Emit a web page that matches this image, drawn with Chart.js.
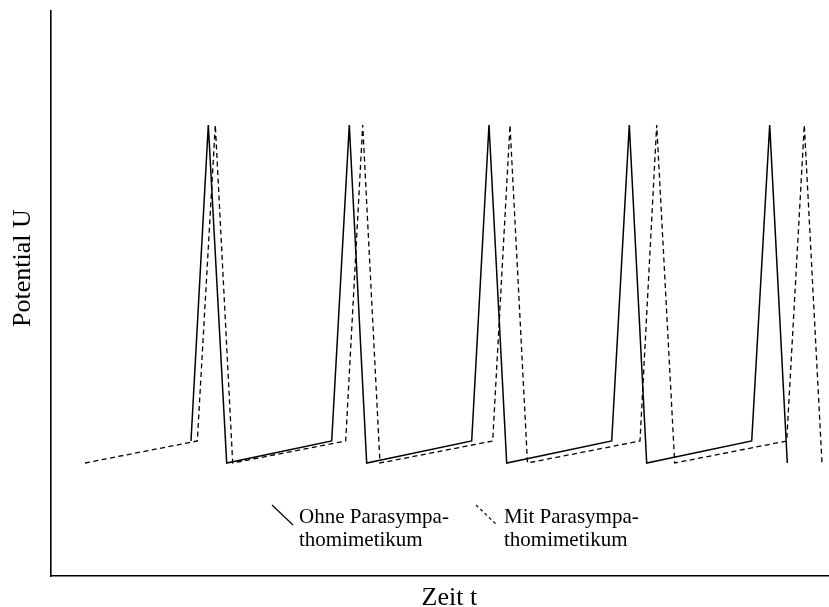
<!DOCTYPE html>
<html>
<head>
<meta charset="utf-8">
<script src="https://cdn.jsdelivr.net/npm/chart.js@4/dist/chart.umd.min.js"></script>
<style>
  html, body { margin: 0; padding: 0; background: #ffffff; }
  #wrap { width: 829px; height: 607px; position: relative; }
</style>
</head>
<body>
<div id="wrap"><canvas id="c" width="829" height="607"></canvas></div>
<script>
// ---- data (time t, potential U in arbitrary units) ----
const seriesLabels = ["Ohne Parasympa-\nthomimetikum", "Mit Parasympa-\nthomimetikum"];
const xTitle = "Zeit t";
const yTitle = "Potential U";

const ohneT = [140, 157.3, 175.7, 280.7, 298.3, 315.7, 420.7, 438, 455.7, 560.7, 578.3, 595.7, 700.7, 718.7, 736.3];
const ohneU = [135, 451, 113, 135, 451, 113, 135, 451, 113, 135, 451, 113, 135, 451, 113];

const mitT = [34, 146.3, 164.3, 181.7, 294.7, 311.7, 329, 441.7, 459, 476.5, 589, 605.7, 623.7, 735.7, 753.3, 771];
const mitU = [113, 135, 451, 113, 135, 451, 113, 135, 451, 113, 135, 451, 113, 135, 451, 113];

const xMin = 0, xMax = 778;
const yMin = 0, yMax = 565;

const toPoints = (ts, us) => ts.map((t, i) => ({ x: t, y: us[i] }));

const FONT = '"Liberation Serif", "Times New Roman", serif';

const titlesAndLegend = {
  id: 'titlesAndLegend',
  afterDraw(chart) {
    const ctx = chart.ctx;
    const ca = chart.chartArea;
    ctx.save();
    ctx.fillStyle = '#000';
    ctx.font = '26px ' + FONT;
    ctx.textAlign = 'center';
    ctx.textBaseline = 'alphabetic';
    // x title
    ctx.fillText(xTitle, ca.left + (ca.right - ca.left) * 0.512, 605);
    // y title
    ctx.save();
    ctx.translate(30, ca.top + (ca.bottom - ca.top) * 0.455);
    ctx.rotate(-Math.PI / 2);
    ctx.fillText(yTitle, 0, 0);
    ctx.restore();

    // legend
    ctx.font = '21px ' + FONT;
    ctx.textAlign = 'left';
    const entries = [
      { mx: 272, tx: 299, ds: chart.data.datasets[0] },
      { mx: 476, tx: 504, ds: chart.data.datasets[1] }
    ];
    entries.forEach(e => {
      ctx.save();
      ctx.strokeStyle = e.ds.borderColor;
      ctx.lineWidth = 1.2;
      ctx.setLineDash(e.ds.borderDash ? [3, 3] : []);
      ctx.beginPath();
      ctx.moveTo(e.mx, 505);
      ctx.lineTo(e.mx + 21, 525);
      ctx.stroke();
      ctx.restore();
      const lines = e.ds.label.split('\n');
      lines.forEach((ln, i) => ctx.fillText(ln, e.tx, 523 + i * 23));
    });
    ctx.restore();
  }
};

new Chart(document.getElementById('c'), {
  type: 'line',
  data: {
    datasets: [
      {
        label: seriesLabels[0],
        data: toPoints(ohneT, ohneU),
        borderColor: '#000',
        borderWidth: 1.5,
        pointRadius: 0,
        tension: 0,
        fill: false
      },
      {
        label: seriesLabels[1],
        data: toPoints(mitT, mitU),
        borderColor: '#000',
        borderWidth: 1.3,
        borderDash: [5, 3.5],
        pointRadius: 0,
        tension: 0,
        fill: false
      }
    ]
  },
  plugins: [titlesAndLegend],
  options: {
    responsive: false,
    animation: false,
    events: [],
    layout: { padding: { top: 11, right: 0, left: 0, bottom: 0 } },
    plugins: { legend: { display: false }, tooltip: { enabled: false } },
    scales: {
      x: {
        type: 'linear',
        min: xMin, max: xMax,
        grid: { display: false, drawTicks: false },
        border: { display: true, color: '#000', width: 1.6 },
        ticks: { display: false },
        afterFit(axis) { axis.height = 31; }
      },
      y: {
        type: 'linear',
        min: yMin, max: yMax,
        grid: { display: false, drawTicks: false },
        border: { display: true, color: '#000', width: 1.6 },
        ticks: { display: false },
        afterFit(axis) { axis.width = 51; }
      }
    }
  }
});
</script>
</body>
</html>
